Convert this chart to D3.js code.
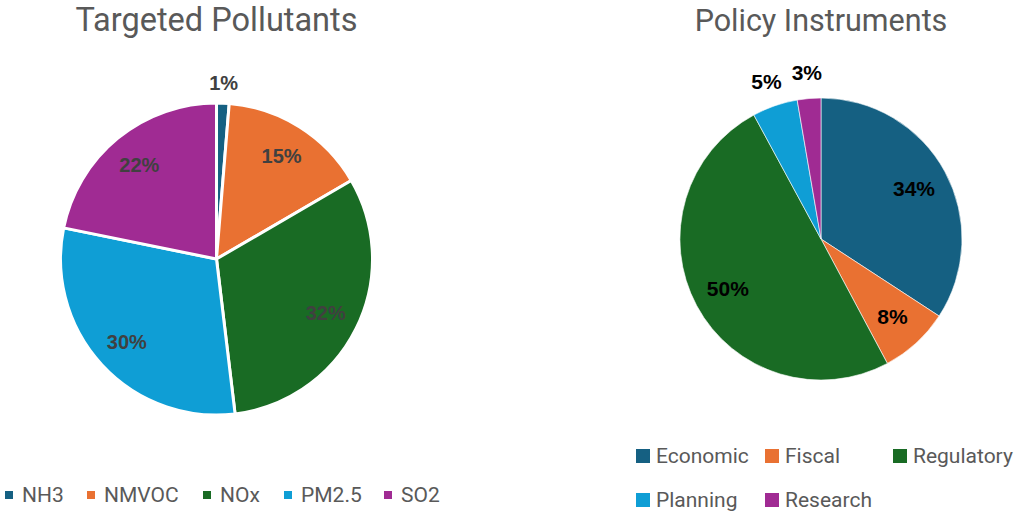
<!DOCTYPE html>
<html>
<head>
<meta charset="utf-8">
<script src="https://cdn.jsdelivr.net/npm/d3@7"></script>
<style>
    body { margin: 0; background: #fff; }
    svg  { display: block; }
    .title  { font-family: Roboto, "Open Sans", sans-serif; fill: #595959; }
    .legend { font-family: Roboto, "Open Sans", sans-serif; fill: #595959; font-size: 21px; }
    .label  { font-family: "Liberation Sans", Arial, sans-serif; font-weight: bold; }
</style>
</head>
<body>
<div id="chart"></div>
<script>
// Targeted Pollutants (share of measures, %)
var pollutantNames  = [ 'NH3', 'NMVOC', 'NOx', 'PM2.5', 'SO2' ];
var pollutantValues = [ 1.3, 15.3, 31.5, 30.1, 21.8 ];
var pollutantLabels = [ '1%', '15%', '32%', '30%', '22%' ];

// Policy Instruments (share of measures, %)
var instrumentNames  = [ 'Economic', 'Fiscal', 'Regulatory', 'Planning', 'Research' ];
var instrumentValues = [ 34.2, 8.0, 49.9, 5.2, 2.7 ];
var instrumentLabels = [ '34%', '8%', '50%', '5%', '3%' ];

var colours = [ '#156082', '#e97132', '#196b24', '#0f9ed5', '#a02b93' ];

var width  = 1017;
var height = 512;

var svg = d3.select ('#chart')
            .append ('svg')
            .attr ('width', width)
            .attr ('height', height);

function DrawPie (opts)
{
    var g = svg.append ('g')
               .attr ('transform', 'translate(' + opts.cx + ',' + opts.cy + ')');

    var colour = d3.scaleOrdinal ()
                   .domain (opts.names)
                   .range (colours);

    var pie = d3.pie ()
                .sort (null)
                .value (function (d) { return d.value; });

    var data = opts.names.map (function (n, i) {
        return { name: n, value: opts.values[i], label: opts.labels[i] };
    });

    var arcs = pie (data);

    var arc = d3.arc ()
                .innerRadius (0)
                .outerRadius (opts.r);

    g.selectAll ('path')
     .data (arcs)
     .enter ()
     .append ('path')
     .attr ('d', arc)
     .style ('fill', function (d) { return colour (d.data.name); })
     .style ('stroke', '#fff')
     .style ('stroke-width', opts.strokeWidth)
     .style ('stroke-linejoin', 'round');

    // labels: inside for big slices, outside for the small ones
    g.selectAll ('text.label')
     .data (arcs)
     .enter ()
     .append ('text')
     .attr ('class', 'label')
     .attr ('text-anchor', 'middle')
     .attr ('dy', '0.35em')
     .style ('fill', opts.labelColour)
     .style ('font-size', opts.labelSize + 'px')
     .attr ('transform', function (d) {
         var small = (d.endAngle - d.startAngle) < 0.4;
         var rr    = small ? opts.r + opts.outside : opts.r * opts.inside;
         var a     = (d.startAngle + d.endAngle) / 2;
         return 'translate(' + (rr * Math.sin (a)) + ',' + (-rr * Math.cos (a)) + ')';
     })
     .text (function (d) { return d.data.label; });

    svg.append ('text')
       .attr ('class', 'title')
       .attr ('x', opts.cx)
       .attr ('y', 31)
       .attr ('text-anchor', 'middle')
       .style ('font-size', opts.titleSize + 'px')
       .text (opts.title);

    // legend
    var leg = svg.selectAll (null)
                 .data (opts.names)
                 .enter ()
                 .append ('g')
                 .attr ('transform', function (d, i) {
                     return 'translate(' + opts.legendX[i] + ',' + opts.legendY[i] + ')';
                 });

    leg.append ('rect')
       .attr ('x', 0)
       .attr ('y', -opts.box / 2 - 7)
       .attr ('width', opts.box)
       .attr ('height', opts.box)
       .style ('fill', function (d) { return colour (d); });

    leg.append ('text')
       .attr ('class', 'legend')
       .attr ('x', opts.textGap)
       .attr ('y', 0)
       .text (function (d) { return d; });
}

DrawPie ({
    names: pollutantNames, values: pollutantValues, labels: pollutantLabels,
    cx: 216.5, cy: 259, r: 156, strokeWidth: 3,
    inside: 0.782, outside: 20, labelColour: '#404040', labelSize: 20,
    title: 'Targeted Pollutants', titleSize: 32.5,
    legendX: [ 5, 87, 203, 284, 384 ], legendY: [ 502, 502, 502, 502, 502 ],
    box: 8, textGap: 17
});

DrawPie ({
    names: instrumentNames, values: instrumentValues, labels: instrumentLabels,
    cx: 821, cy: 239, r: 141, strokeWidth: 0.6,
    inside: 0.75, outside: 26, labelColour: '#000', labelSize: 21,
    title: 'Policy Instruments', titleSize: 30.5,
    legendX: [ 636, 765, 893, 636, 765 ], legendY: [ 463, 463, 463, 507, 507 ],
    box: 14, textGap: 20
});
</script>
</body>
</html>
